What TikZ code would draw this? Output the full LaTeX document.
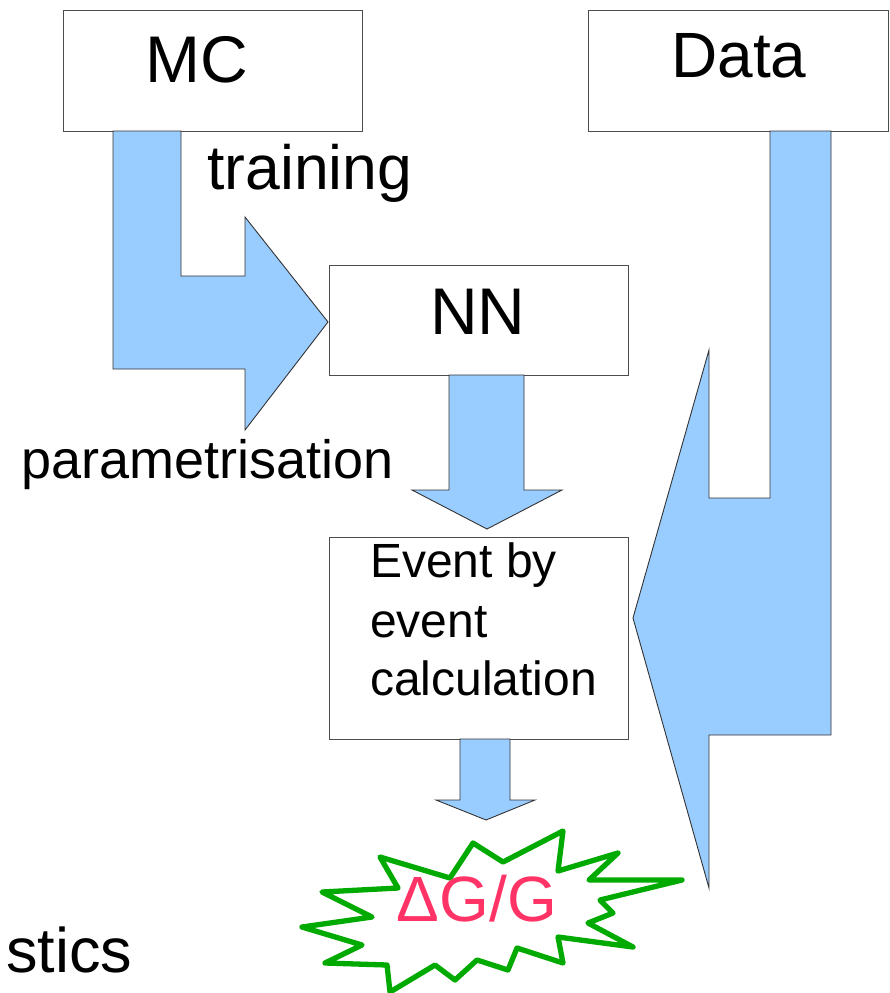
\documentclass[tikz,border=0pt]{standalone}
\usepackage{fontspec}
\setmainfont{Liberation Sans}
\usetikzlibrary{calc}
\definecolor{arrowblue}{RGB}{153,204,255}
\definecolor{stargreen}{RGB}{0,170,0}
\definecolor{dgred}{RGB}{255,51,102}

\begin{document}
\begin{tikzpicture}[x=1pt, y=-1pt,
    box/.style={draw=black!70, line width=1pt, inner sep=0pt},
    blockarrow/.style={fill=arrowblue, draw=black!80, line width=0.9pt},
    lbl/.style={inner sep=0pt, anchor=base}]
    \useasboundingbox (0,0) rectangle (890,993);
    \node[box, minimum width=299, minimum height=121] (mc) at (212.5,70.5) {};
    \node[box, minimum width=300, minimum height=121] (data) at (738,70.5) {};
    \node[box, minimum width=299, minimum height=110] (nn) at (478.5,320) {};
    \node[box, minimum width=299, minimum height=202] (event) at (478.5,638) {};
    \coordinate (A1) at (113,131); \coordinate (A2) at (181,131); \coordinate (A3) at (181,276);
    \coordinate (A4) at (245,276); \coordinate (A5) at (245,217); \coordinate (A6) at (328,322);
    \coordinate (A7) at (245,430); \coordinate (A8) at (245,369); \coordinate (A9) at (113,369);
    \draw[blockarrow] (A1)--(A2)--(A3)--(A4)--(A5)--(A6)--(A7)--(A8)--(A9)--cycle;
    \draw[blockarrow] (449,375)--(524,375)--(524,490)--(562,490)--(487,529)--(412,490)--(449,490)--cycle;
    \draw[blockarrow] (460,739)--(510,739)--(510,800)--(535,800)--(486,820)--(436,800)--(460,800)--cycle;
    \draw[blockarrow] (770,131)--(831,131)--(831,735)--(709,735)--(709,888)--(633,618)--(709,350)--(709,498)--(770,498)--cycle;
    \draw[stargreen, line width=5.3pt, line join=round, fill=white]
        (563,831)--(558,871)--(618,853)--(589,880)--(682,880)--(600,900)--(613,913)--(588,923)
        --(633,947)--(558,937)--(563,963)--(517,948)--(508,970)--(477,960)--(455,980)--(435,965)
        --(390,992)--(387,965)--(325,963)--(362,945)--(302,927)--(372,917)--(322,892)--(398,888)
        --(380,857)--(450,878)--(473,843)--(503,862)--cycle;
    \node[lbl, font=\fontsize{66}{79}\selectfont] (mctext) at (197,82) {MC};
    \node[lbl, font=\fontsize{64}{77}\selectfont] (datatext) at (739,77) {Data};
    \node[lbl, font=\fontsize{66}{79}\selectfont] (nntext) at (478,334) {NN};
    \node[lbl, anchor=base west, font=\fontsize{62.5}{75}\selectfont] (train) at (207,189) {training};
    \node[lbl, anchor=base west, font=\fontsize{54}{65}\selectfont] (param) at (21,478) {parametrisation};
    \foreach \t/\y in {Event by/577, event/637, calculation/695}
        \node[lbl, anchor=base west, font=\fontsize{48}{58}\selectfont] (ev\y) at (370,\y) {\t};
    \node[lbl, text=dgred, font=\fontsize{64}{77}\selectfont] (dg) at (477,921) {ΔG/G};
    \node[lbl, anchor=base west, font=\fontsize{63}{76}\selectfont] (stics) at (6,972) {stics};
\end{tikzpicture}
\end{document}
